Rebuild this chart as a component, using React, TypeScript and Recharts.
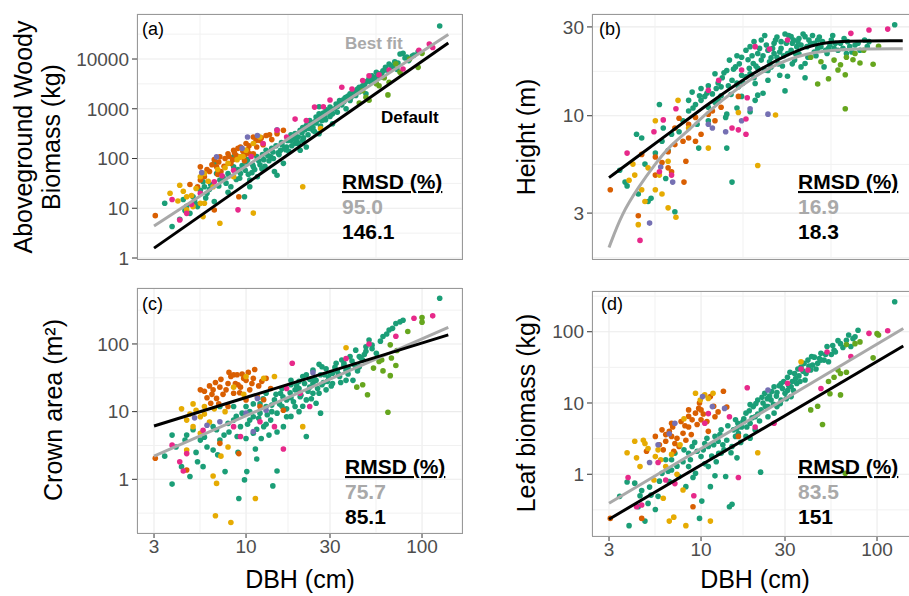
import React from "react";
import {
  CartesianGrid,
  ReferenceLine,
  Scatter,
  ScatterChart,
  XAxis,
  YAxis,
} from "recharts";

type Pt = [number, number];

// shared DBH axis
const dbhDomain: [number, number] = [2.401, 168.7];
const dbhTicks = [3, 10, 30, 100];
const dbhMinor = [5.477, 17.32, 54.77];

const agbTicks = [1, 10, 100, 1000, 10000];
const agbMinor = [3.162, 31.62, 316.2, 3162, 31623];
const htTicks = [3, 10, 30];
const htMinor = [1.732, 5.477, 17.32];
const caTicks = [1, 10, 100];
const caMinor = [0.3162, 3.162, 31.62, 316.2];
const lbTicks = [1, 10, 100];
const lbMinor = [0.3162, 3.162, 31.62, 316.2];

const panelLetters = ["(a)", "(b)", "(c)", "(d)"];
const rmsdBest = ["95.0", "16.9", "75.7", "83.5"];
const rmsdDefault = ["146.1", "18.3", "85.1", "151"];

// (a) aboveground woody biomass
const agbTeal: Pt[] = [
  [3.45, 12.6], [3.8, 4.3], [4.4, 15], [4.8, 7.9], [5.3, 10.8], [5.5, 23], [6.6, 80], [5.8, 27],
  [7.1, 37], [7.9, 50], [8.5, 68], [8.2, 27], [9.3, 50], [9.8, 17], [10.5, 27], [11, 68],
  [11.6, 43], [12.6, 95], [13.8, 108], [14.5, 55], [15, 46], [15.7, 147], [17, 170], [18, 230],
  [19, 316], [19.8, 270], [20.3, 370], [21, 230], [22, 460], [23, 580], [24, 370], [25, 680],
  [26, 790], [27, 580], [28.5, 950], [30, 1080], [31, 790], [32.5, 1250], [34, 1470], [35, 1200],
  [37, 1700], [39, 2000], [40.5, 2300], [42, 1850], [44, 2700], [46, 2900], [48, 3400], [50, 4000],
  [52, 4600], [55, 5400], [57, 5000], [60, 5800], [62, 6800], [65, 7900], [67, 7300], [75, 12600],
  [78, 13000], [126, 46000], [84, 9300], [16.3, 80], [13, 147], [8.5, 108], [6.8, 50], [5, 17],
  [6.6, 13.6], [10.5, 37], [20.3, 147], [22, 170], [19, 200], [26, 316], [31, 500], [37, 1000],
  [7.9, 21], [5.7, 34], [26, 1100], [39, 1470], [48, 2000], [9, 60], [10, 85], [11.5, 110],
  [12, 75], [14, 160], [16, 190], [18, 300], [21, 420], [23, 450], [25, 520], [28, 700],
  [29, 850], [33, 1100], [36, 1400], [41, 1900], [45, 2400], [53, 3900], [58, 4300], [70, 8800],
  [72, 6200], [90, 12000], [95, 14000], [80, 10500], [4.2, 6], [4.6, 11], [5.1, 14], [6, 20],
  [6.3, 30], [7.4, 42], [8.8, 38], [9.5, 72], [10.8, 52], [12.8, 70], [15.4, 120], [17.5, 140],
  [19.5, 220], [24, 420], [27.5, 820], [34, 1250], [44, 2200], [10.2, 95], [10.9, 75], [11.8, 90],
  [12.4, 120], [13.3, 115], [14.2, 135], [14.8, 180], [15.9, 210], [16.6, 160], [17.2, 230],
  [18.5, 250], [19.2, 270], [20.8, 330], [21.6, 380], [22.8, 400], [23.6, 520], [24.8, 560],
  [25.6, 600], [26.6, 690], [27.8, 760], [29.5, 900], [30.5, 950], [31.8, 1000], [32.8, 1150],
  [34.5, 1350], [35.5, 1500], [36.5, 1650], [38, 1800], [39.5, 1700], [41.5, 2100], [43, 2500],
  [45.5, 2600], [47, 3000], [49, 3600], [51, 3500], [54, 4200], [56, 4700], [59, 5200], [63, 6000],
  [68, 7000], [73, 8300], [82, 11000], [88, 11500], [4.5, 9], [5.2, 12], [5.9, 16], [6.2, 24],
  [7, 28], [7.7, 32], [8, 45], [8.7, 55], [9.2, 40], [9.9, 58], [10.3, 48], [11.2, 60], [12.3, 62],
  [13.5, 90], [14.3, 100], [15.2, 130], [16.8, 150], [18.2, 180], [19.8, 200], [21.2, 260],
  [22.5, 300], [24.5, 350], [26.5, 450], [28.3, 600], [30, 700], [33, 850],
];
const agbOrange: Pt[] = [
  [3.05, 7.1], [5.5, 68], [6.6, 95], [7.1, 108], [7.9, 125], [8.5, 147], [9.3, 170], [10, 200],
  [11, 270], [12, 230], [13, 290], [15, 316], [16.3, 370], [5.8, 43], [6.8, 68], [8.2, 80],
  [9.3, 108], [10.5, 125], [9.1, 17], [6.6, 9.2], [5.3, 27], [11.5, 170], [5.5, 37], [11, 125],
  [7.5, 70], [8.8, 115], [10.2, 150], [12.5, 190], [14, 240], [6.2, 55], [4.8, 30], [9.8, 90],
  [6, 60], [6.4, 75], [7, 85], [7.6, 100], [8, 110], [8.6, 130], [9, 160], [9.6, 140], [10.4, 180],
  [11.4, 230], [12.2, 260], [13.6, 300], [7.2, 55], [8.4, 95], [9.9, 120], [6.9, 48],
];
const agbPurple: Pt[] = [[5.6, 52], [10.2, 270], [11.6, 290], [15, 380], [6.8, 108], [9.5, 160]];
const agbYellow: Pt[] = [
  [4.2, 29], [4.6, 17], [5.5, 43], [4.6, 9.3], [5, 10.8], [5.8, 12.6], [7.1, 5], [6.5, 27],
  [8.5, 43], [11, 8], [9.3, 108], [11, 200], [12, 270], [21, 27], [26.5, 400], [5.5, 12.6],
  [5.7, 6.8], [7.9, 80], [5.8, 50], [10, 147], [3.7, 20], [4.1, 14], [4.4, 22], [4.9, 18],
  [5.2, 25], [6.1, 35], [6.9, 60], [7.6, 65], [8.9, 95], [9.6, 110],
];
const agbPink: Pt[] = [
  [3.8, 15], [4.2, 5.8], [4.6, 7.9], [5.5, 20], [9, 9.3], [6.6, 34], [8.5, 58], [15, 370],
  [19, 620], [24.5, 1080], [27.5, 1100], [35, 2700], [46, 3700], [50, 4600], [78, 6300],
  [96, 15000], [115, 17000], [22, 580], [57, 4800], [17, 270], [4.9, 12], [7.3, 45], [10.7, 110],
  [12.5, 200], [30, 1500], [40, 2500], [65, 6000], [110, 20000],
];
const agbLime: Pt[] = [
  [46, 2300], [48, 1700], [57, 2900], [64, 1900], [65, 3400], [71, 8000], [85, 10000], [95, 6800],
  [100, 13000], [61, 4200], [75, 5400], [55, 3200], [44, 1300], [50, 1480],
];
const agbBest: Pt[] = [[3, 4.4], [141, 31000]];
const agbDefault: Pt[] = [[3, 1.58], [141, 21000]];

// (b) height
const htTeal: Pt[] = [
  [3.45, 5.1], [3.7, 4.4], [3.8, 4.2], [4.3, 7.95], [4.6, 7.6], [4.4, 3.8], [5, 3.46], [5.2, 3.6],
  [5.8, 11.5], [6, 7.3], [6.1, 8.6], [6.3, 4.6], [7.1, 3.05], [6.8, 7.95], [7.9, 9.4], [8.5, 10.6],
  [8.9, 13.4], [9.3, 11.5], [9.7, 6.7], [10, 12.1], [10.5, 12.7], [11, 11.1], [11.6, 13.1],
  [12, 16.8], [12.6, 12.1], [13, 14.3], [13.8, 9.8], [14, 6.7], [14.5, 19.9], [15, 15.5],
  [15, 4.4], [15.7, 18.3], [16.3, 14.3], [17, 20.6], [18, 16.2], [19, 23.5], [19.8, 19.1],
  [20.3, 14.9], [21, 21.6], [22, 25.5], [23, 17.6], [24, 22.5], [25, 18.3], [26, 24.5], [27, 20.6],
  [28.5, 25], [30, 13.6], [31, 21.6], [32.5, 26.6], [34, 19.9], [35, 23.5], [37, 18.3], [39, 26.6],
  [40.5, 20.6], [42, 24.5], [44, 22], [46, 25.5], [48, 23.5], [50, 18.3], [52, 21.6], [55, 25.5],
  [57, 23], [62, 24.5], [67, 21.6], [75, 24], [80, 22.5], [90, 25], [126, 30.8], [20.3, 12.1],
  [24, 15.5], [17, 12.7], [19, 16.8], [22, 19.9], [31, 16.3], [26, 21.6], [39, 19.1], [8.5, 12.1],
  [11, 9.4], [19, 10.5], [16, 11], [14, 10.2], [21, 12.9], [22.5, 13.2], [39, 16], [14, 17.5],
  [16, 21], [18, 22.5], [20, 25], [23, 27], [27, 26.5], [30, 27.5], [33, 24.5], [36, 26], [43, 27],
  [47, 26.5], [53, 23], [58, 24.5], [65, 26], [70, 23.5], [85, 25.5], [28, 22], [25, 20.5],
  [21, 18], [17, 16.5], [13.5, 17], [12.5, 15], [11, 14.5], [10, 14], [9.5, 9], [36, 21.5],
  [45, 21], [29, 18.5], [12.2, 14], [13.2, 16], [14.3, 14.5], [15.3, 17.8], [16.5, 19], [17.3, 15],
  [18.5, 20], [19.5, 21], [20.5, 18.5], [21.5, 23], [22.5, 21], [23.5, 24], [24.5, 19.5],
  [25.5, 23], [26.5, 25.5], [27.5, 19], [28.5, 23], [29.5, 21], [30.5, 24.5], [31.5, 27],
  [32.5, 22.5], [33.5, 25.5], [34.5, 21.5], [35.5, 25], [37, 24], [38, 27.5], [40, 23.5],
  [41, 25.5], [44, 24.5], [46, 23], [49, 25], [51, 22.5], [54, 24], [56, 27], [60, 22.5], [64, 23],
  [68, 25], [72, 22], [78, 24.5], [88, 23.5], [9, 11], [9.8, 12.8], [10.8, 13.2], [12, 11.8],
  [13, 12.8], [14.8, 13], [16, 15], [18.8, 18], [20, 16], [24, 17.5], [28, 16.5], [33, 19],
  [6.5, 6.5], [7.5, 8.2], [5.5, 6.3], [4.8, 5.5],
];
const htOrange: Pt[] = [
  [3.05, 4.0], [4.6, 6.2], [5.5, 6.0], [6.5, 6.4], [6.8, 5.0], [7.1, 7.0], [7.9, 7.3], [8.2, 5.7],
  [8.5, 7.6], [9.3, 7.3], [10, 7.95], [11, 10.2], [11.6, 10.6], [12, 9.4], [13, 11.1], [16.3, 12.7],
  [8, 4.4], [4.4, 2.9], [6.5, 5.25], [7.1, 8.6], [8.5, 9], [9.3, 9.8], [5.5, 4.8], [7.5, 9.7],
  [6, 5.6],
];
const htYellow: Pt[] = [
  [5.5, 9.4], [4.2, 4.8], [4.6, 4.0], [5.5, 4.0], [6, 3.8], [6.5, 3.2], [7.2, 2.85], [4.4, 2.6],
  [4.8, 3.46], [5.8, 4.8], [7.4, 12.1], [8.5, 8.6], [11, 6.7], [16.3, 10.4], [21, 5.4],
  [26.5, 10.1], [6.5, 5.7], [5, 5.25], [4.1, 5.5], [3.9, 4.5],
];
const htPurple: Pt[] = [
  [5.1, 2.65], [5.9, 5.3], [6.9, 4.4], [11, 9], [11.6, 8.6], [13.8, 8.2], [17, 9.4], [19, 10.9],
  [24, 10.2],
];
const htPink: Pt[] = [
  [3.8, 6.3], [4.5, 2.14], [5.4, 8.2], [5.8, 5.0], [6.1, 9.5], [7.2, 10.9], [11, 13.7],
  [12.6, 15.5], [16.3, 8.4], [18, 9.6], [18.3, 12.5], [17, 17.6], [20.3, 23.5], [24.5, 22.8],
  [31, 25.5], [71, 27.7], [90, 28.9], [115, 29.2], [15, 8.6], [18, 7.95], [6.8, 4.8],
];
const htLime: Pt[] = [
  [42, 20.6], [46, 14.8], [48, 19.5], [53, 15.8], [57, 19.9], [60, 17.6], [62, 18.8], [66, 16.6],
  [66, 10.9], [67, 20.6], [73, 20], [75, 21.6], [80, 19.2], [84, 22.5], [95, 18.9], [102, 23.6],
];
const htBest: Pt[] = [
  [3, 1.96], [3.54, 2.97], [4.4, 4.12], [5.47, 5.5], [6.8, 7.05], [8.5, 8.3], [10.5, 10.2],
  [16.6, 14.4], [25.7, 18.8], [39.8, 21.7], [61.7, 22.9], [140, 22.9],
];
const htDefault: Pt[] = [
  [3, 4.65], [4.4, 6.07], [6.8, 8.24], [10.5, 11.2], [15.6, 14.7], [25.7, 19.6], [39.8, 23.6],
  [54, 25.3], [140, 25.3],
];

// (c) crown area
const caTeal: Pt[] = [
  [3.45, 2.2], [3.8, 4.5], [3.8, 0.85], [4, 3], [4.3, 1.54], [4.5, 3.8], [4.8, 1.1], [5, 5.4],
  [5.3, 1.82], [5.5, 3.8], [5.7, 1.54], [5.8, 4.2], [6.5, 2.7], [6.8, 5.4], [7.1, 3.8], [7.6, 1.3],
  [7.9, 6.7], [8.5, 7.5], [8.9, 4.3], [9.1, 0.52], [9.3, 6], [9.8, 0.98], [10, 11.9], [10.1, 1.3],
  [10.5, 7.5], [11, 4.8], [11.3, 2.8], [12, 9.5], [12.6, 6], [13, 11.9], [13.8, 7.5], [14.2, 0.8],
  [14.5, 14.9], [15, 9.5], [15, 1.33], [15.7, 18.7], [16.3, 6], [17, 14.9], [18, 29], [19, 11.9],
  [19.8, 21], [20.3, 16.6], [21, 33], [22, 4.3], [23, 23], [24, 18.7], [25, 29], [26.5, 9.5],
  [27, 46], [28.5, 21], [30, 37], [31, 26], [32.5, 52], [34, 33], [35, 58], [37, 41], [39, 65],
  [40.5, 29], [42, 81], [44, 46], [46, 58], [48, 91], [50, 114], [55, 73], [60, 129], [65, 161],
  [71, 201], [75, 212], [78, 224], [126, 473], [19, 21], [22, 14.9], [26, 18.7], [31, 37], [37, 29],
  [44, 65], [25, 13.3], [17, 8.4], [13, 18.7], [8.5, 11.9], [11, 8.4], [6.5, 6], [7.1, 11.9],
  [12, 13], [14, 10], [16, 12], [18, 16], [20, 22], [21, 12], [23, 30], [24, 26], [27, 25],
  [28, 35], [29, 28], [33, 40], [36, 48], [38, 36], [41, 50], [43, 40], [47, 70], [52, 85],
  [20, 10], [18, 8.5], [15, 5], [13.5, 4.5], [10, 4], [9, 2.5], [11.5, 2], [10.5, 10], [11, 13],
  [11.8, 8], [12.5, 15.5], [13.2, 9], [14, 12.5], [14.8, 18], [15.5, 13], [16.2, 16.5], [17, 11],
  [17.8, 19], [18.6, 14], [19.4, 24], [20.5, 17.5], [21.5, 26], [22.5, 20], [23.5, 15.5],
  [24.5, 30], [25.5, 22], [26.5, 35], [27.5, 27], [28.5, 43], [29.5, 32], [30.5, 24], [32, 45],
  [33.5, 36], [34.5, 27], [36, 52], [38, 44], [40, 56], [42, 46], [45, 62], [48, 78], [52, 96],
  [58, 110], [63, 140], [68, 170], [8, 5], [8.8, 8.5], [9.5, 9.5], [10.2, 6.5], [11.5, 5.5],
  [12.2, 4], [13, 6.5], [7.5, 4.5], [6.9, 2.3], [6, 3], [5.2, 2.5], [4.6, 4.5], [16, 22], [18, 25],
  [20, 28], [22, 35], [24, 41], [26, 50],
];
const caOrange: Pt[] = [
  [3.05, 2.05], [4.6, 1.37], [5.5, 21], [5.8, 20], [6.5, 21], [6.8, 15.7], [7.1, 23], [7.9, 26],
  [8.2, 33], [8.5, 35], [8.9, 35], [9.3, 23], [9.7, 31], [10, 29], [10.5, 21], [11, 31],
  [11.2, 42], [11.6, 16.6], [12.6, 15], [13, 31], [16.3, 10.5], [7.1, 3.4], [9.1, 2.4], [6.3, 13.3],
  [7.9, 11.9], [8.5, 18.7], [10, 14.9], [12, 11.9], [7.4, 18], [9, 25], [6, 16], [6.2, 24],
  [6.7, 27], [7.2, 30], [7.7, 21], [8, 38], [8.7, 26], [9.5, 36], [10.8, 26], [11.8, 24],
  [12.3, 28], [7, 13], [6.4, 18], [9.2, 19], [10.3, 38], [13.8, 22],
];
const caYellow: Pt[] = [
  [4.3, 11], [4.6, 7.5], [4.8, 9.2], [5, 6], [5.5, 8.4], [5.8, 9.2], [6.5, 1.12], [6.7, 0.29],
  [6.8, 0.87], [7.2, 2.2], [8.2, 0.23], [8.5, 23], [10, 33], [11.3, 0.52], [12.6, 31], [14.5, 33],
  [21, 6], [37, 88], [5.5, 4.8], [5.8, 11.9], [7.9, 3], [4.6, 2.7], [5.2, 10.5], [6.2, 7],
  [6.6, 11], [5, 13], [7.6, 10], [9.7, 18],
];
const caPurple: Pt[] = [
  [5.1, 8.1], [6, 6.3], [7.1, 7.1], [10, 9.5], [11.6, 15.7], [13, 10.5], [24, 37.7], [11, 5.1],
];
const caPink: Pt[] = [
  [3.8, 3.2], [4.2, 1.82], [4.4, 1.33], [4.6, 2.4], [5.7, 5.3], [8.5, 6], [9.3, 4.3], [12, 7.1],
  [16.3, 2.8], [17, 22], [18.3, 52], [20.3, 18.7], [37, 61], [71, 130], [90, 240], [115, 260],
  [50, 100], [23, 11.9], [14.5, 6],
];
const caLime: Pt[] = [
  [42.6, 23], [46, 25], [49, 17.8], [53, 44], [59, 58], [66, 34], [71, 48], [67, 62], [83, 153],
  [100, 245], [100, 210], [66, 97], [72, 80], [64, 9.8], [60, 40], [57, 55],
];
const caBest: Pt[] = [[3, 2.21], [141, 176]];
const caDefault: Pt[] = [[3, 6.14], [141, 136]];

// (d) leaf biomass
const lbTeal: Pt[] = [
  [3.45, 0.49], [3.8, 0.78], [3.9, 0.19], [4.2, 0.75], [4.4, 0.35], [4.6, 0.59], [4.8, 0.22],
  [5, 0.39], [5.2, 0.51], [5.5, 0.32], [5.7, 0.49], [6, 1.03], [6.3, 1.6], [6.6, 0.79], [6.8, 1.15],
  [7.1, 1.97], [7.5, 0.93], [7.9, 1.5], [8.2, 0.67], [8.5, 1.28], [8.9, 2.45], [9.3, 1.03],
  [9.8, 0.24], [10, 1.77], [10.1, 0.42], [10.5, 2.7], [11, 1.28], [11.3, 0.67], [12, 3.4],
  [12.6, 1.97], [13, 4.2], [13.8, 0.93], [14.5, 0.35], [15, 0.38], [15, 2.45], [15.7, 5.8],
  [16.3, 3.75], [17, 4.6], [18, 7.2], [19, 5.2], [19.8, 8.9], [20.3, 6.4], [21, 11], [21.8, 1.07],
  [22, 8], [23, 13.7], [24, 6.4], [25, 11], [26, 16.9], [27, 8.9], [28.5, 18.8], [30, 13.7],
  [31, 23], [32.5, 12.3], [34, 26], [35, 18.8], [37, 32], [39, 21], [40.5, 40], [42, 29], [44, 44],
  [46, 36], [48, 50], [50, 40], [52, 62], [57, 55], [62, 68], [67, 76], [75, 85], [78, 105],
  [71, 62], [126, 264], [18, 3.4], [20.3, 4.2], [24, 8.9], [28.5, 11], [26, 7.2], [32.5, 16.9],
  [11, 2.45], [13, 1.97], [15.7, 3.4], [8.5, 1.97], [6.8, 1.6], [14, 3], [16, 4.4], [17.5, 6],
  [19, 9.5], [21, 7], [22.5, 10], [24.5, 12.5], [27, 14], [29, 16], [31, 15], [33, 20], [36, 24],
  [38, 28], [43, 34], [47, 42], [55, 48], [11.5, 1.8], [12.5, 2.9], [9.5, 2.1], [13.5, 2.2],
  [10.5, 1.4], [10.3, 2.2], [10.8, 3.2], [11.8, 2.6], [12.2, 1.5], [12.8, 3.6], [13.3, 2.6],
  [14.2, 4.8], [14.8, 2], [15.3, 4.2], [16.2, 5.2], [16.8, 2.8], [17.3, 5.5], [18.2, 4.6],
  [18.8, 7.8], [19.5, 6.2], [20.5, 9.8], [21.5, 5.6], [22.2, 12], [23.2, 9], [23.8, 11.5],
  [25.2, 14.5], [25.8, 9.6], [26.8, 12.5], [27.8, 17.5], [28.2, 9.8], [29.5, 20], [30.5, 11.5],
  [31.5, 17.5], [32, 27], [33.5, 15], [34.5, 22], [35.5, 30], [36.5, 20], [38.5, 36], [39.5, 26],
  [41, 33], [42.5, 45], [45, 30], [48, 40], [51, 48], [53, 38], [56, 64], [58, 52], [60, 75],
  [64, 60], [69, 90], [73, 80], [8, 2.2], [8.7, 1.6], [9.2, 2.8], [7.3, 1.3], [6.5, 1.1],
  [5.8, 0.8], [5.1, 0.66], [4.5, 0.5], [9, 0.9], [12, 0.95], [16, 1.7], [19, 3.2],
];
const lbOrange: Pt[] = [
  [3.05, 0.24], [4.6, 0.24], [4.9, 2.1], [5.5, 3.4], [6, 4.2], [6.3, 2.9], [6.6, 4], [6.8, 3.4],
  [7.1, 2.7], [7.5, 2.45], [7.9, 3.75], [8.2, 3], [8.5, 8], [8.9, 5.8], [9.3, 7.2], [9.7, 8.4],
  [10, 5.8], [11, 4], [11.3, 12.3], [12, 6.4], [13.4, 14.6], [14, 8.8], [16.3, 3.4], [9, 0.35],
  [6.8, 5.2], [8.5, 4.6], [6.1, 2.2], [10, 8], [6.3, 3.6], [6.9, 4.6], [7.3, 3.2], [7.7, 5.5],
  [8.1, 4.8], [8.8, 3.6], [9.5, 5], [10.3, 7], [10.8, 5.5], [11.8, 9], [12.5, 7.5], [7, 2.1],
  [5.8, 2.6], [9.8, 10], [8.5, 6.5],
];
const lbYellow: Pt[] = [
  [3.8, 2], [4.3, 1.7], [4.5, 1.28], [4.8, 2.7], [4.7, 3], [5.4, 0.83], [5.7, 2.2], [6.1, 0.46],
  [6.6, 0.22], [7, 0.25], [7.3, 1], [7.9, 0.6], [8.2, 0.19], [9.3, 13.7], [10.5, 13], [11, 11.6],
  [11.3, 0.22], [21, 2], [37, 38], [6.3, 1.28], [5.5, 1.77], [4.2, 2.9], [5, 2.3], [5.9, 1.6],
  [6.8, 1.9], [7.6, 2.6], [9.9, 11], [8, 6], [11.7, 13.7],
];
const lbPurple: Pt[] = [
  [5.1, 1.46], [5.7, 2.6], [6.6, 3.7], [7.1, 5.2], [10.2, 12.3], [11.6, 8.9], [13.6, 8.4], [24, 15.2],
];
const lbPink: Pt[] = [
  [3.85, 0.9], [4.3, 0.35], [4.6, 0.37], [5.7, 1.46], [6.3, 0.83], [7.1, 0.74], [9.1, 0.5],
  [10.5, 5.2], [11, 7.1], [16.3, 0.9], [18.3, 16.4], [20.3, 4.6], [26, 5.2], [31, 18.9], [37, 30],
  [40.5, 29], [48, 16], [52, 52], [71, 45], [90, 95], [115, 103], [14.5, 6.4],
];
const lbLime: Pt[] = [
  [42, 8], [46, 9], [49, 5], [53, 20], [57, 23], [62, 26], [66, 1.03], [67, 66], [67, 27], [75, 68],
  [80, 72], [95, 43], [100, 94], [102, 90], [60, 29], [54, 13.5], [62, 13],
];
const lbBest: Pt[] = [[3, 0.392], [141, 111]];
const lbDefault: Pt[] = [[3, 0.234], [141, 63]];

const colors = {
  teal: "#1b9e77",
  lime: "#66a61e",
  orange: "#d95f02",
  yellow: "#e6ab02",
  purple: "#7570b3",
  pink: "#e7298a",
};
const fitGrey = "#a9a9a9";

const toXY = (pts: Pt[]) => pts.map(([x, y]) => ({ x, y }));

const dot = (p: any) => <circle cx={p.cx} cy={p.cy} r={2.8} fill={p.fill} />;
const noDot = () => <g />;

const panels = [
  {
    left: 0, top: 0, plotTop: 14, yDomain: [0.955, 80400], yTicks: agbTicks, yMinor: agbMinor, showX: false,
    groups: [agbTeal, agbLime, agbOrange, agbYellow, agbPurple, agbPink], best: agbBest, dflt: agbDefault,
  },
  {
    left: 455, top: 0, plotTop: 14, yDomain: [1.7, 35.2], yTicks: htTicks, yMinor: htMinor, showX: false,
    groups: [htTeal, htLime, htOrange, htYellow, htPurple, htPink], best: htBest, dflt: htDefault,
  },
  {
    left: 0, top: 280, plotTop: 8, yDomain: [0.161, 671], yTicks: caTicks, yMinor: caMinor, showX: true,
    groups: [caTeal, caLime, caOrange, caYellow, caPurple, caPink], best: caBest, dflt: caDefault,
  },
  {
    left: 455, top: 280, plotTop: 11, yDomain: [0.136, 373], yTicks: lbTicks, yMinor: lbMinor, showX: true,
    groups: [lbTeal, lbLime, lbOrange, lbYellow, lbPurple, lbPink], best: lbBest, dflt: lbDefault,
  },
];
const groupColors = [colors.teal, colors.lime, colors.orange, colors.yellow, colors.purple, colors.pink];

const Panel = ({ cfg }: any) => (
  <div style={{ position: "absolute", left: cfg.left, top: cfg.top }}>
    <ScatterChart
      width={462}
      height={cfg.plotTop + 245 + 30}
      margin={{ top: cfg.plotTop, right: 0, bottom: 0, left: 0 }}
    >
      <CartesianGrid stroke="#ebebeb" strokeWidth={1.1} />
      {dbhMinor.map((v) => (
        <ReferenceLine key={"vx" + v} x={v} stroke="#f1f1f1" strokeWidth={1} />
      ))}
      {cfg.yMinor.map((v: number) => (
        <ReferenceLine key={"hy" + v} y={v} stroke="#f1f1f1" strokeWidth={1} />
      ))}
      <XAxis
        type="number"
        dataKey="x"
        scale="log"
        domain={dbhDomain}
        allowDataOverflow
        ticks={dbhTicks}
        interval={0}
        height={30}
        tickSize={5}
        tickMargin={2}
        stroke="#333"
        axisLine={false}
        tickLine={{ stroke: "#333" }}
        tick={cfg.showX ? { fill: "#4d4d4d", fontSize: 19 } : false}
      />
      <YAxis
        type="number"
        dataKey="y"
        scale="log"
        domain={cfg.yDomain}
        allowDataOverflow
        ticks={cfg.yTicks}
        interval={0}
        width={137}
        tickSize={5}
        tickMargin={3}
        stroke="#333"
        axisLine={false}
        tickLine={{ stroke: "#333" }}
        tick={{ fill: "#4d4d4d", fontSize: 19 }}
      />
      {cfg.groups.map((g: Pt[], i: number) => (
        <Scatter
          key={"g" + i}
          data={toXY(g)}
          fill={groupColors[i]}
          shape={dot}
          isAnimationActive={false}
        />
      ))}
      <Scatter
        data={toXY(cfg.best)}
        fill={fitGrey}
        line={{ stroke: fitGrey, strokeWidth: 3 }}
        lineJointType="basis"
        shape={noDot}
        isAnimationActive={false}
      />
      <Scatter
        data={toXY(cfg.dflt)}
        fill="#000"
        line={{ stroke: "#000", strokeWidth: 3 }}
        lineJointType="basis"
        shape={noDot}
        isAnimationActive={false}
      />
    </ScatterChart>
  </div>
);

const Rmsd = ({ x, y, best, dflt }: any) => (
  <g fontWeight="bold" fontSize={21}>
    <text x={x} y={y} fill="#000" style={{ textDecoration: "underline" }}>
      RMSD (%)
    </text>
    <text x={x} y={y + 25} fill={fitGrey}>{best}</text>
    <text x={x} y={y + 50} fill="#000">{dflt}</text>
  </g>
);

const App = () => {
  return (
    <div
      style={{
        position: "absolute",
        left: 0,
        top: 0,
        width: 909,
        height: 596,
        overflow: "hidden",
        background: "#fff",
        fontFamily: "'Liberation Sans', Arial, Helvetica, sans-serif",
      }}
    >
      {panels.map((p, i) => (
        <Panel key={i} cfg={p} />
      ))}
      <svg
        width={909}
        height={596}
        style={{ position: "absolute", left: 0, top: 0, pointerEvents: "none" }}
      >
        <g fill="none" stroke="#999" strokeWidth={1}>
          <rect x={137.5} y={14.5} width={325} height={245} />
          <rect x={592.5} y={14.5} width={325} height={245} />
          <rect x={137.5} y={288.5} width={325} height={245} />
          <rect x={592.5} y={291.5} width={325} height={245} />
        </g>
        <g fontSize={18} fill="#000">
          <text x={142} y={35}>{panelLetters[0]}</text>
          <text x={599} y={35}>{panelLetters[1]}</text>
          <text x={142} y={310}>{panelLetters[2]}</text>
          <text x={601} y={310}>{panelLetters[3]}</text>
        </g>
        <text x={345} y={49} fontSize={17} fontWeight="bold" fill={fitGrey}>Best fit</text>
        <text x={381} y={123} fontSize={17} fontWeight="bold" fill="#000">Default</text>
        <Rmsd x={342} y={189} best={rmsdBest[0]} dflt={rmsdDefault[0]} />
        <Rmsd x={798} y={189} best={rmsdBest[1]} dflt={rmsdDefault[1]} />
        <Rmsd x={345} y={474} best={rmsdBest[2]} dflt={rmsdDefault[2]} />
        <Rmsd x={798} y={474} best={rmsdBest[3]} dflt={rmsdDefault[3]} />
        <g fontSize={25} fill="#000" textAnchor="middle">
          <text transform="translate(32,137) rotate(-90)">Aboveground Woody</text>
          <text transform="translate(60,137) rotate(-90)">Biomass (kg)</text>
          <text transform="translate(535,137) rotate(-90)">Height (m)</text>
          <text transform="translate(62,410) rotate(-90)">Crown area (m²)</text>
          <text transform="translate(535,413) rotate(-90)">Leaf biomass (kg)</text>
          <text x={300} y={588}>DBH (cm)</text>
          <text x={755} y={588}>DBH (cm)</text>
        </g>
      </svg>
    </div>
  );
};

export default App;
